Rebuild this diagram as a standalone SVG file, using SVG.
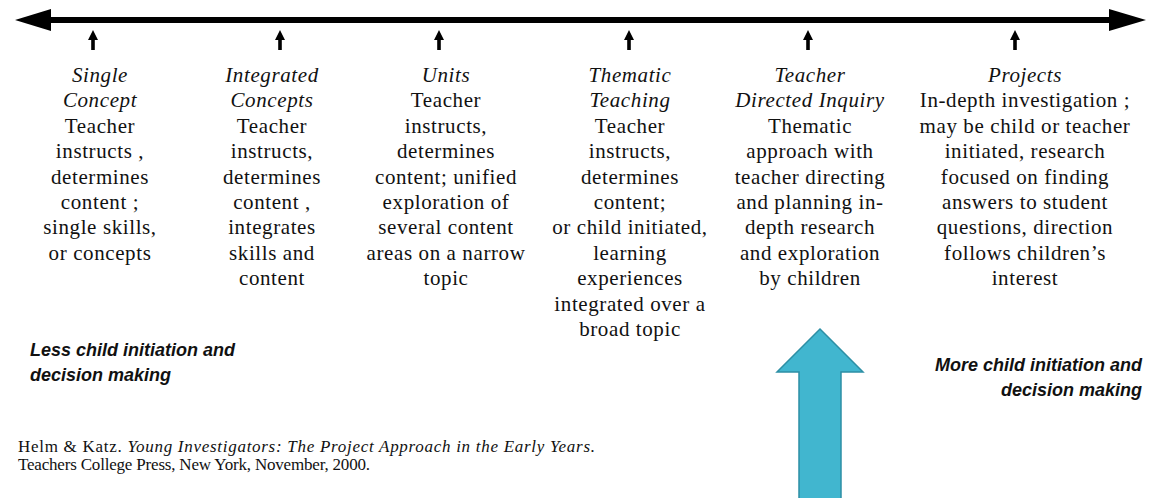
<svg xmlns="http://www.w3.org/2000/svg" width="1159" height="498" viewBox="0 0 1159 498">
<style>
.t{font-family:"Liberation Serif","Times New Roman",serif;font-size:21px;letter-spacing:0.6px;fill:#111;text-anchor:middle}
.i{font-style:italic}
.s{font-family:"Liberation Sans",Arial,sans-serif;font-size:18px;font-weight:bold;font-style:italic;fill:#111}
.c{font-family:"Liberation Serif","Times New Roman",serif;font-size:17px;fill:#111}
</style>
<defs>
<g id="tick"><polygon points="0,-10 -5,0 -1.8,0 -1.8,10 1.8,10 1.8,0 5,0" fill="#000"/></g>
</defs>
<rect width="1159" height="498" fill="#fff"/>
<g id="connectors">
<rect x="48" y="17" width="1064" height="6" fill="#000"/>
<polygon points="15,20 51,9 51,31" fill="#000"/>
<polygon points="1146,20 1109,9 1109,31" fill="#000"/>
<use href="#tick" x="93" y="40"/>
<use href="#tick" x="280" y="40"/>
<use href="#tick" x="439" y="40"/>
<use href="#tick" x="629" y="40"/>
<use href="#tick" x="808" y="40"/>
<use href="#tick" x="1015" y="40"/>
</g>
<g id="single">
<text class="t" x="100" y="82"><tspan class="i">Single</tspan><tspan class="i" x="100" dy="25.4">Concept</tspan><tspan x="100" dy="25.4">Teacher</tspan><tspan x="100" dy="25.4">instructs ,</tspan><tspan x="100" dy="25.4">determines</tspan><tspan x="100" dy="25.4">content ;</tspan><tspan x="100" dy="25.4">single skills,</tspan><tspan x="100" dy="25.4">or concepts</tspan></text>
</g>
<g id="integrated">
<text class="t" x="272" y="82"><tspan class="i">Integrated</tspan><tspan class="i" x="272" dy="25.4">Concepts</tspan><tspan x="272" dy="25.4">Teacher</tspan><tspan x="272" dy="25.4">instructs,</tspan><tspan x="272" dy="25.4">determines</tspan><tspan x="272" dy="25.4">content ,</tspan><tspan x="272" dy="25.4">integrates</tspan><tspan x="272" dy="25.4">skills and</tspan><tspan x="272" dy="25.4">content</tspan></text>
</g>
<g id="units">
<text class="t" x="446" y="82"><tspan class="i">Units</tspan><tspan x="446" dy="25.4">Teacher</tspan><tspan x="446" dy="25.4">instructs,</tspan><tspan x="446" dy="25.4">determines</tspan><tspan x="446" dy="25.4">content; unified</tspan><tspan x="446" dy="25.4">exploration of</tspan><tspan x="446" dy="25.4">several content</tspan><tspan x="446" dy="25.4">areas on a narrow</tspan><tspan x="446" dy="25.4">topic</tspan></text>
</g>
<g id="thematic">
<text class="t" x="630" y="82"><tspan class="i">Thematic</tspan><tspan class="i" x="630" dy="25.4">Teaching</tspan><tspan x="630" dy="25.4">Teacher</tspan><tspan x="630" dy="25.4">instructs,</tspan><tspan x="630" dy="25.4">determines</tspan><tspan x="630" dy="25.4">content;</tspan><tspan x="630" dy="25.4">or child initiated,</tspan><tspan x="630" dy="25.4">learning</tspan><tspan x="630" dy="25.4">experiences</tspan><tspan x="630" dy="25.4">integrated over a</tspan><tspan x="630" dy="25.4">broad topic</tspan></text>
</g>
<g id="inquiry">
<text class="t" x="810" y="82"><tspan class="i">Teacher</tspan><tspan class="i" x="810" dy="25.4">Directed Inquiry</tspan><tspan x="810" dy="25.4">Thematic</tspan><tspan x="810" dy="25.4">approach with</tspan><tspan x="810" dy="25.4">teacher directing</tspan><tspan x="810" dy="25.4">and planning in-</tspan><tspan x="810" dy="25.4">depth research</tspan><tspan x="810" dy="25.4">and exploration</tspan><tspan x="810" dy="25.4">by children</tspan></text>
</g>
<g id="projects">
<text class="t" x="1025" y="82"><tspan class="i">Projects</tspan><tspan x="1025" dy="25.4">In-depth investigation ;</tspan><tspan x="1025" dy="25.4">may be child or teacher</tspan><tspan x="1025" dy="25.4">initiated, research</tspan><tspan x="1025" dy="25.4">focused on finding</tspan><tspan x="1025" dy="25.4">answers to student</tspan><tspan x="1025" dy="25.4">questions, direction</tspan><tspan x="1025" dy="25.4">follows children’s</tspan><tspan x="1025" dy="25.4">interest</tspan></text>
</g>
<g id="less">
<text class="s" x="30" y="356">Less child initiation and</text>
<text class="s" x="30" y="381">decision making</text>
</g>
<g id="more">
<text class="s" x="1142" y="371" text-anchor="end">More child initiation and</text>
<text class="s" x="1142" y="396" text-anchor="end">decision making</text>
</g>
<g id="blue-arrow">
<polygon points="820,329 863,372 841,372 841,499 799,499 799,372 777,372" fill="#41B6CF" stroke="#2D8FA5" stroke-width="1.5"/>
</g>
<g id="citation">
<text class="c" x="18" y="452" textLength="577" lengthAdjust="spacing">Helm &amp; Katz. <tspan font-style="italic">Young Investigators: The Project Approach in the Early Years.</tspan></text>
<text class="c" x="18" y="470" textLength="352" lengthAdjust="spacing">Teachers College Press, New York, November, 2000.</text>
</g>
</svg>
